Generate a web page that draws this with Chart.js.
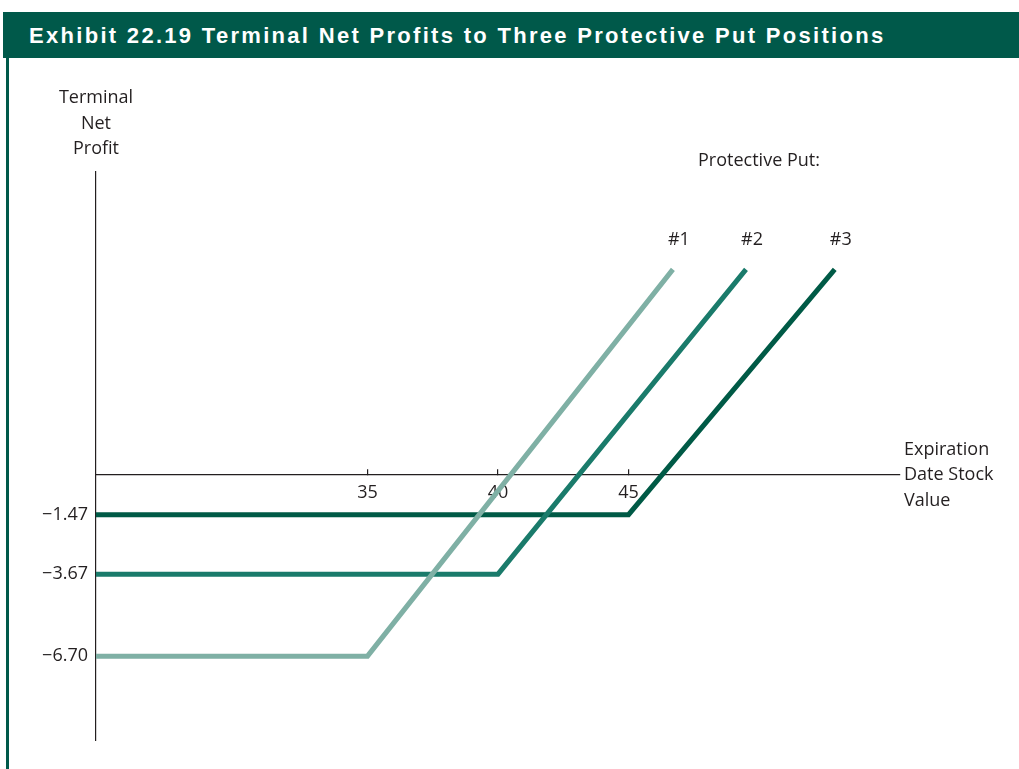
<!DOCTYPE html>
<html>
<head>
<meta charset="utf-8">
<script src="https://cdn.jsdelivr.net/npm/chart.js@4.4.1/dist/chart.umd.min.js"></script>
<style>
  html, body { margin: 0; padding: 0; background: #fff; }
  #wrap { position: relative; width: 1019px; height: 769px; overflow: hidden; }
  #header {
    position: absolute; left: 3px; top: 12px; width: 1016px; height: 46px;
    background: #00594a; color: #fff; box-sizing: border-box; padding-left: 26px;
    font: bold 22px "Liberation Sans", Arial, sans-serif; letter-spacing: 2.3px; line-height: 47px;
    white-space: nowrap; z-index: 2;
  }
  #rule { position: absolute; left: 6px; top: 58px; width: 3px; height: 711px; background: #00594a; z-index: 2; }
  #chart { position: absolute; left: 0; top: 0; }
</style>
</head>
<body>
<div id="wrap">
  <div id="header">Exhibit 22.19 Terminal Net Profits to Three Protective Put Positions</div>
  <div id="rule"></div>
  <canvas id="chart" width="1019" height="769"></canvas>
</div>
<script>
// Stock value at expiration (x) and terminal net profit (y) for each position
const put1X = [24.6, 35, 46.7];
const put1Y = [-6.70, -6.70, 7.6];
const put2X = [24.6, 40, 49.5];
const put2Y = [-3.67, -3.67, 7.6];
const put3X = [24.6, 45, 52.9];
const put3Y = [-1.47, -1.47, 7.6];

const seriesLabels = ['#1', '#2', '#3'];
const seriesColors = ['#7fb0a5', '#1a7b6b', '#005a46'];
const xTicks = [35, 40, 45];
const yTicks = [-1.47, -3.67, -6.70];
const yTitle = ['Terminal', 'Net', 'Profit'];
const xTitle = ['Expiration', 'Date Stock', 'Value'];

const ink = '#231f20';
Chart.defaults.font.family = '"Open Sans", sans-serif';
Chart.defaults.font.size = 18;
Chart.defaults.color = ink;

function toPoints(xs, ys) {
  return xs.map((x, i) => ({ x: x, y: ys[i] }));
}

const series = [[put1X, put1Y], [put2X, put2Y], [put3X, put3Y]];

// axis titles and the "#n" labels at the line ends
const annotations = {
  id: 'annotations',
  afterDraw(chart) {
    const { ctx, chartArea, scales } = chart;
    const zero = scales.y.getPixelForValue(0);
    ctx.save();
    ctx.fillStyle = ink;
    ctx.font = '18px "Open Sans", sans-serif';
    ctx.textBaseline = 'middle';

    ctx.textAlign = 'center';
    yTitle.forEach((t, i) => ctx.fillText(t, chartArea.left, chartArea.top - 74 + i * 25.5));

    ctx.textAlign = 'left';
    xTitle.forEach((t, i) => ctx.fillText(t, chartArea.right + 4, zero + (i - 1) * 25.5));

    ctx.textAlign = 'center';
    seriesLabels.forEach((label, i) => {
      const pts = chart.getDatasetMeta(i).data;
      const end = pts[pts.length - 1];
      ctx.fillText(label, end.x + 6, end.y - 29);
      if (i === 1) ctx.fillText('Protective Put:', end.x + 13, end.y - 108);
    });
    ctx.restore();
  }
};

new Chart(document.getElementById('chart'), {
  type: 'line',
  data: {
    datasets: series.map((s, i) => ({
      label: seriesLabels[i],
      data: toPoints(s[0], s[1]),
      borderColor: seriesColors[i],
      borderWidth: 5,
      borderJoinStyle: 'miter',
      pointRadius: 0,
      tension: 0,
      fill: false
    }))
  },
  options: {
    responsive: false,
    animation: false,
    layout: { padding: { left: 30, right: 119, top: 172, bottom: 29 } },
    plugins: { legend: { display: false }, tooltip: { enabled: false } },
    scales: {
      x: {
        type: 'linear',
        min: 24.6,
        max: 55.4,
        position: { y: 0 },
        afterBuildTicks: (scale) => { scale.ticks = xTicks.map(v => ({ value: v })); },
        afterFit: (scale) => { scale.height = 0; },
        grid: { display: true, drawOnChartArea: false, drawTicks: true, tickLength: -6, color: ink, lineWidth: 1.2 },
        border: { display: true, color: ink, width: 1.2 },
        ticks: { padding: 13, color: ink, maxRotation: 0 }
      },
      y: {
        type: 'linear',
        min: -9.8,
        max: 11.2,
        afterBuildTicks: (scale) => { scale.ticks = yTicks.map(v => ({ value: v })); },
        afterFit: (scale) => { scale.width = 66; },
        grid: { display: false, drawTicks: false },
        border: { display: true, color: ink, width: 1.2 },
        ticks: {
          padding: 8,
          color: ink,
          callback: (v) => '\u2212' + Math.abs(v).toFixed(2)
        }
      }
    }
  },
  plugins: [annotations]
});
</script>
</body>
</html>
